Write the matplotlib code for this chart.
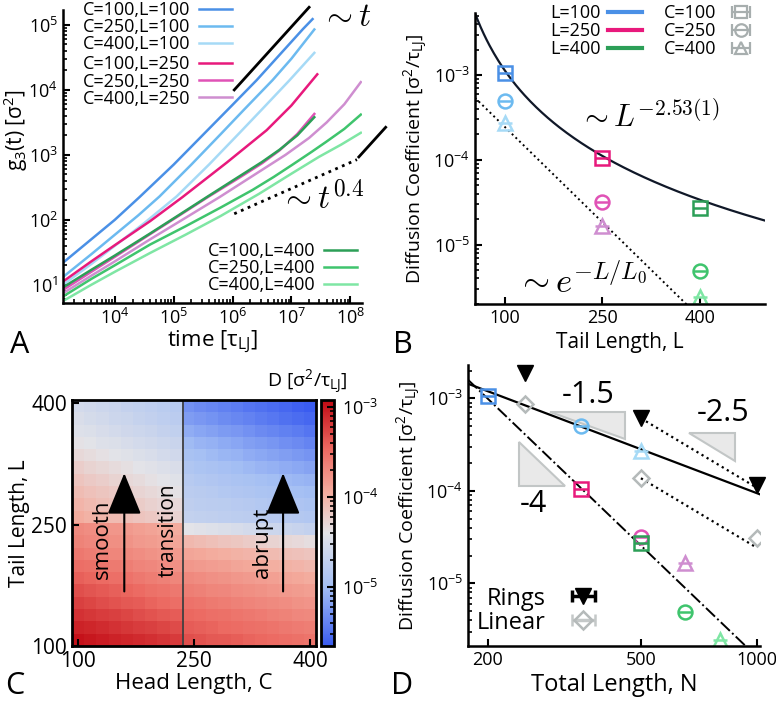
import numpy as np
import matplotlib
matplotlib.use("Agg")
import matplotlib.pyplot as plt
import matplotlib.ticker as mticker
from matplotlib.colors import LinearSegmentedColormap, LogNorm
from matplotlib.lines import Line2D

plt.rcParams["font.family"] = ["Open Sans", "DejaVu Sans"]
plt.rcParams["mathtext.fontset"] = "cm"
plt.rcParams["axes.linewidth"] = 1.8
plt.rcParams["xtick.direction"] = "in"
plt.rcParams["ytick.direction"] = "in"
plt.rcParams["xtick.major.width"] = 1.5
plt.rcParams["ytick.major.width"] = 1.5
plt.rcParams["xtick.minor.width"] = 1.2
plt.rcParams["ytick.minor.width"] = 1.2
plt.rcParams["xtick.major.size"] = 5
plt.rcParams["ytick.major.size"] = 5
plt.rcParams["xtick.minor.size"] = 3
plt.rcParams["ytick.minor.size"] = 3
plt.rcParams["xtick.labelsize"] = 13
plt.rcParams["ytick.labelsize"] = 13

W, H = 776, 704

# ---------------- panel A : g3(t), log10 values
logt_c100_l100 = [3.12, 3.6, 4.0, 4.42, 5.0, 5.5, 6.0, 6.41, 6.9, 7.2, 7.36]
logg_c100_l100 = [1.34, 1.7, 2.0, 2.35, 2.85, 3.31, 3.77, 4.15, 4.64, 4.94, 5.09]
logt_c250_l100 = [3.12, 3.6, 4.0, 4.4, 4.76, 5.3, 5.8, 6.2, 6.68, 7.0, 7.39]
logg_c250_l100 = [1.12, 1.47, 1.77, 2.07, 2.36, 2.85, 3.32, 3.7, 4.15, 4.48, 4.93]
logt_c400_l100 = [3.12, 3.6, 4.0, 4.5, 5.05, 5.6, 6.1, 6.5, 6.97, 7.39]
logg_c400_l100 = [1.0, 1.32, 1.6, 1.95, 2.36, 2.85, 3.32, 3.7, 4.15, 4.57]
logt_c100_l250 = [3.12, 3.6, 4.0, 4.6, 5.15, 5.9, 6.58, 7.0, 7.44]
logg_c100_l250 = [1.05, 1.36, 1.61, 1.98, 2.35, 2.88, 3.38, 3.76, 4.24]
logt_c250_l250 = [3.12, 3.6, 4.0, 4.6, 5.1, 5.58, 6.1, 6.5, 6.8, 7.1, 7.39]
logg_c250_l250 = [0.92, 1.2, 1.43, 1.78, 2.07, 2.35, 2.64, 2.87, 3.07, 3.32, 3.63]
logt_c400_l250 = [3.12, 3.6, 4.0, 4.6, 5.2, 5.78, 6.4, 6.9, 7.3, 7.6, 7.9, 8.18]
logg_c400_l250 = [0.87, 1.14, 1.36, 1.7, 2.03, 2.35, 2.71, 3.0, 3.26, 3.5, 3.78, 4.12]
logt_c100_l400 = [3.12, 3.6, 4.0, 4.6, 5.1, 5.58, 6.1, 6.5, 6.8, 7.1, 7.39]
logg_c100_l400 = [0.96, 1.23, 1.45, 1.79, 2.08, 2.36, 2.66, 2.89, 3.08, 3.3, 3.58]
logt_c250_l400 = [3.12, 3.6, 4.0, 4.6, 5.2, 5.8, 6.34, 6.7, 7.02, 7.35, 7.59, 7.9, 8.18]
logg_c250_l400 = [0.82, 1.09, 1.3, 1.62, 1.9, 2.19, 2.46, 2.66, 2.85, 3.05, 3.2, 3.4, 3.62]
logt_c400_l400 = [3.12, 3.6, 4.0, 4.6, 5.2, 5.8, 6.45, 7.0, 7.47, 7.85, 8.18]
logg_c400_l400 = [0.75, 1.0, 1.2, 1.49, 1.77, 2.06, 2.4, 2.71, 2.97, 3.16, 3.34]

# colours per (C, L)
colors = {
    (100, 100): "#4a90e6", (250, 100): "#6cbaf0", (400, 100): "#a6daf6",
    (100, 250): "#e8197c", (250, 250): "#e052b6", (400, 250): "#cf8ed0",
    (100, 400): "#2c9f57", (250, 400): "#3fc46d", (400, 400): "#7fe6a4",
}

# guide lines  (t range, value at start, exponent)
guide_t1 = ([1.07e6, 2.0e7], 1.0e4, 1.0)
guide_t1_late = ([1.4e8, 4.0e8], 930.0, 1.0)
guide_t04 = ([1.07e6, 1.3e8], 124.0, 0.4)

# ---------------- panel B / D : diffusion coefficients
head_lengths = [100, 250, 400]
tail_lengths = [100, 250, 400]
D_L100 = [1.05e-3, 5.0e-4, 2.7e-4]     # C = 100, 250, 400
D_L250 = [1.05e-4, 3.2e-5, 1.67e-5]
D_L400 = [2.7e-5, 4.9e-6, 2.45e-6]
markers_C = ["s", "o", "^"]

# fits in B
power_amp, power_exp = 1.13e-3, -2.53      # D = amp (L/100)^exp
expo_amp, expo_L0 = 1.37e-3, 58.0           # D = amp exp(-L/L0)

# rings / linear chains in D
rings_N = [250, 500, 1000]
rings_D = [1.9e-3, 6.1e-4, 1.16e-4]
linear_N = [250, 500, 1000]
linear_D = [8.8e-4, 1.37e-4, 3.1e-5]
fit_solid = (1.2e-3, -1.58)     # amp at N=200, exponent
fit_dashdot = (1.0e-3, -4.0)
# slope guide triangles: (N_left, N_right, D_anchor, slope, label, label_N, label_D)
slope_tris = [
    (290, 454, 7.06e-4, -1.5, "-1.5", 365, 1.08e-3),
    (666, 875, 4.18e-4, -2.5, "-2.5", 815, 6.9e-4),
    (241.5, 317, 3.35e-4, -4.0, "-4", 263, 7.2e-5),
]

# ---------------- panel C : log10(D) * 100, rows from L=400 (top) to L=100
log_d_grid = [
    [-455, -458, -462, -465, -469, -472, -475, -479, -482, -530, -534, -537, -541, -544, -548, -551, -555, -558, -562, -565],
    [-450, -454, -457, -461, -464, -468, -471, -475, -478, -522, -526, -529, -533, -536, -540, -544, -547, -551, -554, -558],
    [-445, -448, -452, -455, -459, -462, -465, -469, -472, -512, -516, -519, -523, -526, -530, -534, -537, -541, -544, -548],
    [-438, -441, -445, -448, -452, -455, -458, -462, -465, -502, -506, -509, -513, -516, -520, -524, -527, -531, -534, -538],
    [-430, -434, -437, -441, -444, -448, -451, -455, -458, -495, -498, -502, -505, -508, -512, -515, -518, -521, -525, -528],
    [-422, -426, -429, -433, -436, -440, -443, -447, -450, -488, -491, -494, -497, -500, -503, -506, -509, -512, -515, -518],
    [-415, -419, -422, -426, -430, -433, -437, -440, -444, -482, -485, -487, -490, -492, -495, -498, -500, -503, -505, -508],
    [-408, -412, -416, -419, -423, -427, -431, -434, -438, -478, -480, -482, -485, -487, -489, -491, -493, -496, -498, -500],
    [-402, -406, -410, -413, -417, -421, -425, -428, -432, -474, -476, -478, -479, -481, -483, -485, -487, -488, -490, -492],
    [-395, -399, -403, -407, -411, -414, -418, -422, -426, -470, -472, -473, -475, -476, -478, -480, -481, -483, -484, -486],
    [-370, -373, -376, -379, -382, -386, -389, -392, -395, -440, -443, -446, -449, -452, -455, -458, -461, -464, -467, -470],
    [-365, -368, -371, -374, -377, -381, -384, -387, -390, -405, -408, -411, -414, -417, -420, -423, -426, -429, -432, -435],
    [-358, -361, -364, -367, -370, -373, -376, -379, -382, -390, -392, -395, -397, -400, -402, -405, -407, -410, -412, -415],
    [-350, -353, -356, -359, -362, -366, -369, -372, -375, -380, -382, -385, -387, -390, -392, -395, -397, -400, -402, -405],
    [-342, -345, -348, -351, -354, -358, -361, -364, -367, -370, -372, -375, -377, -380, -382, -385, -387, -390, -392, -395],
    [-332, -335, -339, -342, -345, -348, -352, -355, -358, -362, -364, -367, -369, -372, -374, -376, -379, -381, -384, -386],
    [-324, -327, -331, -334, -337, -340, -344, -347, -350, -354, -356, -359, -361, -364, -366, -368, -371, -373, -376, -378],
    [-315, -318, -321, -324, -327, -331, -334, -337, -340, -346, -348, -351, -353, -356, -358, -360, -363, -365, -368, -370],
    [-306, -309, -312, -315, -318, -321, -324, -327, -330, -340, -342, -344, -347, -349, -351, -353, -355, -358, -360, -362],
    [-297, -300, -303, -306, -309, -311, -314, -317, -320, -332, -334, -337, -339, -341, -344, -346, -348, -350, -353, -355],
]
grid_C = (92.5, 407.5)
grid_L = (100, 404)
transition_C = 236
arrow_C = [160, 365]
arrow_L = (164, 317)
region_labels = [("smooth", 132, 232, 16), ("transition", 216, 243, 15), ("abrupt", 339, 228, 16)]


def pos(l, t, r, b):
    return [l / W, 1 - b / H, (r - l) / W, (b - t) / H]


def pow10_fmt(v, p):
    return r"$\mathregular{10^{%d}}$" % int(round(np.log10(v)))


def clean(ax):
    ax.spines["top"].set_visible(False)
    ax.spines["right"].set_visible(False)


def data_marker(ax, x, y, m, col):
    ax.plot(x, y, m, ms=10, mfc="none", mec=col, mew=1.8, ls="none")
    ax.plot(x, y, "_", ms=10, mec=col, mew=1.8, ls="none")


fig = plt.figure(figsize=(W / 100, H / 100), dpi=100)

# ======================= A
axA = fig.add_axes(pos(63, 10, 362, 303))
curves = [
    (logt_c100_l100, logg_c100_l100, (100, 100)),
    (logt_c250_l100, logg_c250_l100, (250, 100)),
    (logt_c400_l100, logg_c400_l100, (400, 100)),
    (logt_c100_l250, logg_c100_l250, (100, 250)),
    (logt_c250_l250, logg_c250_l250, (250, 250)),
    (logt_c400_l250, logg_c400_l250, (400, 250)),
    (logt_c100_l400, logg_c100_l400, (100, 400)),
    (logt_c250_l400, logg_c250_l400, (250, 400)),
    (logt_c400_l400, logg_c400_l400, (400, 400)),
]
lines = []
for lt, lg, key in curves:
    ln, = axA.plot(10 ** np.array(lt), 10 ** np.array(lg), color=colors[key], lw=1.8,
                   label=f"C={key[0]},L={key[1]}")
    lines.append(ln)
for (trange, g0, ex), st in [(guide_t1, "-"), (guide_t1_late, "-"), (guide_t04, ":")]:
    tt = np.array(trange)
    axA.plot(tt, g0 * (tt / tt[0]) ** ex, color="black", lw=2, ls=st, clip_on=False)
axA.set_xscale("log")
axA.set_yscale("log")
axA.set_xlim(10 ** 3.12, 10 ** 8.2)
axA.set_ylim(10 ** 0.72, 10 ** 5.23)
axA.xaxis.set_major_locator(mticker.LogLocator(10, numticks=12))
axA.xaxis.set_major_formatter(mticker.FuncFormatter(pow10_fmt))
axA.yaxis.set_major_formatter(mticker.FuncFormatter(pow10_fmt))
clean(axA)
axA.set_xlabel(r"time [τ$\mathregular{_{LJ}}$]", fontsize=16, labelpad=1)
axA.set_ylabel(r"g$\mathregular{_3}$(t) [σ$\mathregular{^2}$]", fontsize=15)
axA.yaxis.set_label_coords(-0.112, 0.59)
leg_kw = dict(frameon=False, markerfirst=False, fontsize=13, labelspacing=-0.05,
              handlelength=1.8, handletextpad=0.5, borderpad=0, borderaxespad=0)
legA1 = axA.legend(handles=lines[:3], loc="upper right", bbox_to_anchor=(0.565, 1.031), **leg_kw)
axA.add_artist(legA1)
legA2 = axA.legend(handles=lines[3:6], loc="upper right", bbox_to_anchor=(0.565, 0.845), **leg_kw)
axA.add_artist(legA2)
axA.legend(handles=lines[6:], loc="lower right", bbox_to_anchor=(0.983, 0.03), **leg_kw)
axA.text(3.2e7, 1.3e5, r"$\sim t$", fontsize=24, ha="left", va="center")
axA.text(6.3e6, 372, r"$\sim t^{0.4}$", fontsize=24, ha="left", va="top")

# ======================= B
axB = fig.add_axes(pos(475, 13, 765, 304))
Lf = np.linspace(54, 500, 200)
axB.plot(Lf, power_amp * (Lf / 100) ** power_exp, color="#101828", lw=1.6)
axB.plot(Lf, expo_amp * np.exp(-Lf / expo_L0), color="black", lw=1.4, ls=":")
for L, Dvals in zip(tail_lengths, [D_L100, D_L250, D_L400]):
    for C, d, m in zip(head_lengths, Dvals, markers_C):
        data_marker(axB, L, d, m, colors[(C, L)])
axB.set_yscale("log")
axB.set_xlim(54, 500)
axB.set_ylim(2.0e-6, 5.4e-3)
axB.set_xticks([100, 250, 400])
axB.yaxis.set_major_formatter(mticker.FuncFormatter(pow10_fmt))
clean(axB)
axB.set_xlabel("Tail Length, L", fontsize=15, labelpad=4)
axB.set_ylabel(r"Diffusion Coefficient [σ$\mathregular{^2}$/τ$\mathregular{_{LJ}}$]",
               fontsize=14, labelpad=2)
axB.text(322, 3.2e-4, r"$\sim L^{-2.53(1)}$", fontsize=22, ha="center", va="center")
axB.text(218, 3.6e-6, r"$\sim e^{-L/L_0}$", fontsize=25, ha="center", va="center")
gray = "#a7aeae"
hB = [Line2D([], [], color=colors[(100, L)], lw=3) for L in tail_lengths]
for m in markers_C:
    hB.append(axB.errorbar([np.nan], [np.nan], xerr=[1], fmt=m, ms=9, mfc="none",
                           mec=gray, mew=1.6, color=gray, ecolor=gray, capsize=4,
                           elinewidth=1.6, capthick=1.6))
labB = [f"L={L}" for L in tail_lengths] + [f"C={C}" for C in head_lengths]
axB.legend(hB, labB, ncol=2, loc="upper right", bbox_to_anchor=(0.975, 1.03),
           frameon=False, markerfirst=False, fontsize=13, labelspacing=0.0,
           handlelength=1.9, handletextpad=0.4, columnspacing=1.2,
           borderpad=0, borderaxespad=0)

# ======================= C
axC = fig.add_axes(pos(72, 400, 316, 646))
cmap = LinearSegmentedColormap.from_list("dcoef", [
    (0.0, "#3a5cf0"), (0.24, "#a4bff4"), (0.46, "#e4e4e8"),
    (0.62, "#f4aea0"), (0.80, "#ec6a62"), (1.0, "#c20a14")])
norm = LogNorm(vmin=2.2e-6, vmax=1.2e-3)
im = axC.imshow(10 ** (np.array(log_d_grid) / 100.0), extent=(*grid_C, *grid_L),
                origin="upper", aspect="auto", interpolation="nearest", cmap=cmap, norm=norm)
axC.axvline(transition_C, color="#404040", lw=1.3)
for c in arrow_C:
    axC.annotate("", xy=(c, arrow_L[1]), xytext=(c, arrow_L[0]),
                 arrowprops=dict(arrowstyle="-|>,head_length=1.1,head_width=0.45",
                                 mutation_scale=24, lw=1.5, color="black"))
for txt, c, l, fs in region_labels:
    axC.text(c, l, txt, rotation=90, ha="center", va="center", fontsize=fs)
axC.set_xlim(*grid_C)
axC.set_ylim(*grid_L)
axC.set_xticks([100, 250, 400])
axC.set_yticks([100, 250, 400])
axC.tick_params(labelsize=15)
for s in axC.spines.values():
    s.set_linewidth(2)
axC.set_xlabel("Head Length, C", fontsize=16, labelpad=1)
axC.set_ylabel("Tail Length, L", fontsize=15, labelpad=1)

cax = fig.add_axes(pos(321, 400, 334, 646))
cb = fig.colorbar(im, cax=cax)
cb.outline.set_linewidth(2)
cax.yaxis.set_major_formatter(mticker.FuncFormatter(pow10_fmt))
cax.tick_params(which="both", direction="in", labelsize=13, pad=6)
fig.text(307 / W, 1 - 382 / H, r"D [σ$\mathregular{^2}$/τ$\mathregular{_{LJ}}$]",
         fontsize=14, ha="center", va="center")

# ======================= D
axD = fig.add_axes(pos(468, 365, 760, 646))
Nf = np.linspace(178, 1018, 200)
axD.plot(Nf, fit_solid[0] * (Nf / 200) ** fit_solid[1], color="black", lw=1.6)
axD.plot(Nf, fit_dashdot[0] * (Nf / 200) ** fit_dashdot[1], color="black", lw=1.4, ls="-.")
for n1, n2, d0, sl, lab, lx, ly in slope_tris:
    d1 = d0 * (n2 / n1) ** sl
    if sl > -3:
        xs, ys = [n1, n2, n2], [d0, d0, d1]
    else:
        xs, ys = [n1, n1, n2], [d0, d1, d1]
    axD.fill(xs, ys, facecolor="#e9e9e9", edgecolor="#c2c6c6", lw=1.5, zorder=1)
    axD.text(lx, ly, lab, fontsize=22, ha="center", va="center")
for ns, ds in [(rings_N, rings_D), (linear_N, linear_D)]:
    nn = np.array(ns[1:])
    axD.plot(nn, ds[1] * (nn / nn[0]) ** -2.5, color="black", lw=1.6, ls=":")
for L, Dvals in zip(tail_lengths, [D_L100, D_L250, D_L400]):
    for C, d, m in zip(head_lengths, Dvals, markers_C):
        data_marker(axD, C + L, d, m, colors[(C, L)])
axD.plot(linear_N, linear_D, "D", ms=8, mfc="none", mec="#b5baba", mew=1.8, ls="none")
axD.plot(rings_N, rings_D, "v", ms=11, color="black", ls="none", clip_on=False)
axD.set_xscale("log")
axD.set_yscale("log")
axD.set_xlim(178, 1018)
axD.set_ylim(2.1e-6, 2.3e-3)
axD.xaxis.set_major_locator(mticker.FixedLocator([200, 500, 1000]))
axD.xaxis.set_minor_locator(mticker.NullLocator())
axD.xaxis.set_major_formatter(mticker.FixedFormatter(["200", "500", "1000"]))
axD.yaxis.set_major_formatter(mticker.FuncFormatter(pow10_fmt))
clean(axD)
axD.set_xlabel("Total Length, N", fontsize=17, labelpad=3)
axD.set_ylabel(r"Diffusion Coefficient [σ$\mathregular{^2}$/τ$\mathregular{_{LJ}}$]",
               fontsize=14, labelpad=2)
hr = axD.errorbar([np.nan], [np.nan], xerr=[1], fmt="v", ms=12, color="black",
                  capsize=4, elinewidth=2.5, capthick=2.5)
hl = axD.errorbar([np.nan], [np.nan], xerr=[1], fmt="D", ms=9, mfc="none", mec="#b5baba",
                  mew=1.8, color="#c4c8c8", capsize=4, elinewidth=2.5, capthick=2.5)
axD.legend([hr, hl], ["Rings", "Linear"], loc="lower left", bbox_to_anchor=(0.03, 0.04),
           frameon=False, markerfirst=False, fontsize=17, labelspacing=0.0,
           handlelength=2.6, handletextpad=0.3, borderpad=0, borderaxespad=0)

# panel letters
for letter, x, y in [("A", 20, 345), ("B", 403, 345), ("C", 15, 686), ("D", 402, 686)]:
    fig.text(x / W, 1 - y / H, letter, fontsize=22, ha="center", va="center")

fig.savefig("out.png", dpi=100)
